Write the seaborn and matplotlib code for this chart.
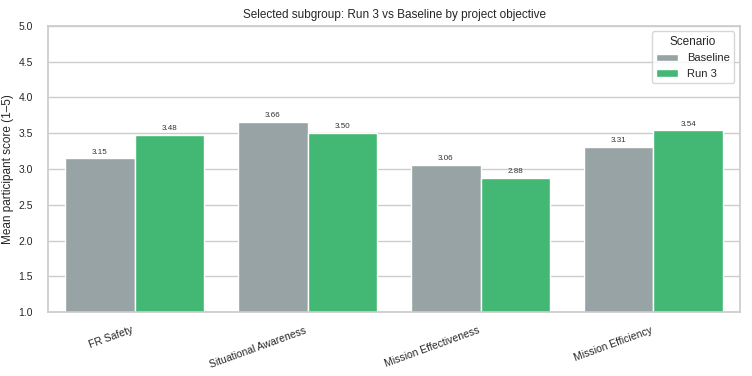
import matplotlib
matplotlib.use("Agg")
import matplotlib.pyplot as plt
import seaborn as sns
import pandas as pd

objectives = ["FR Safety", "Situational Awareness", "Mission Effectiveness", "Mission Efficiency"]
baseline = [3.15, 3.66, 3.06, 3.31]
run3 = [3.48, 3.50, 2.88, 3.54]
scenarios = ["Baseline", "Run 3"]

df = pd.DataFrame({
    "objective": objectives * 2,
    "score": baseline + run3,
    "scenario": ["Baseline"] * len(objectives) + ["Run 3"] * len(objectives),
})

sns.set_theme(style="whitegrid")
plt.rcParams["font.family"] = ["Liberation Sans", "DejaVu Sans"]

fig, ax = plt.subplots(figsize=(7.52, 3.76), dpi=100)
sns.barplot(data=df, x="objective", y="score", hue="scenario", hue_order=scenarios,
            palette=["#95a5a6", "#2ecc71"], ax=ax)

# value labels
for container in ax.containers:
    ax.bar_label(container, fmt="%.2f", fontsize=5.8, padding=2, color="#333333")

ax.set_ylim(1.0, 5.0)
ax.set_yticks([1.0, 1.5, 2.0, 2.5, 3.0, 3.5, 4.0, 4.5, 5.0])
ax.tick_params(axis="both", labelsize=7.5)
ax.tick_params(axis="y", pad=5)
ax.set_xlabel("")
ax.set_ylabel("Mean participant score (1–5)", fontsize=8.5, labelpad=3)
ax.set_title("Selected subgroup: Run 3 vs Baseline by project objective", fontsize=8.5)
plt.setp(ax.get_xticklabels(), rotation=20, ha="right")
ax.legend(title="Scenario", loc="upper right", fontsize=8, title_fontsize=8.5)

fig.subplots_adjust(left=0.064, right=0.984, top=0.931, bottom=0.170)
fig.savefig("out.png", dpi=100)
